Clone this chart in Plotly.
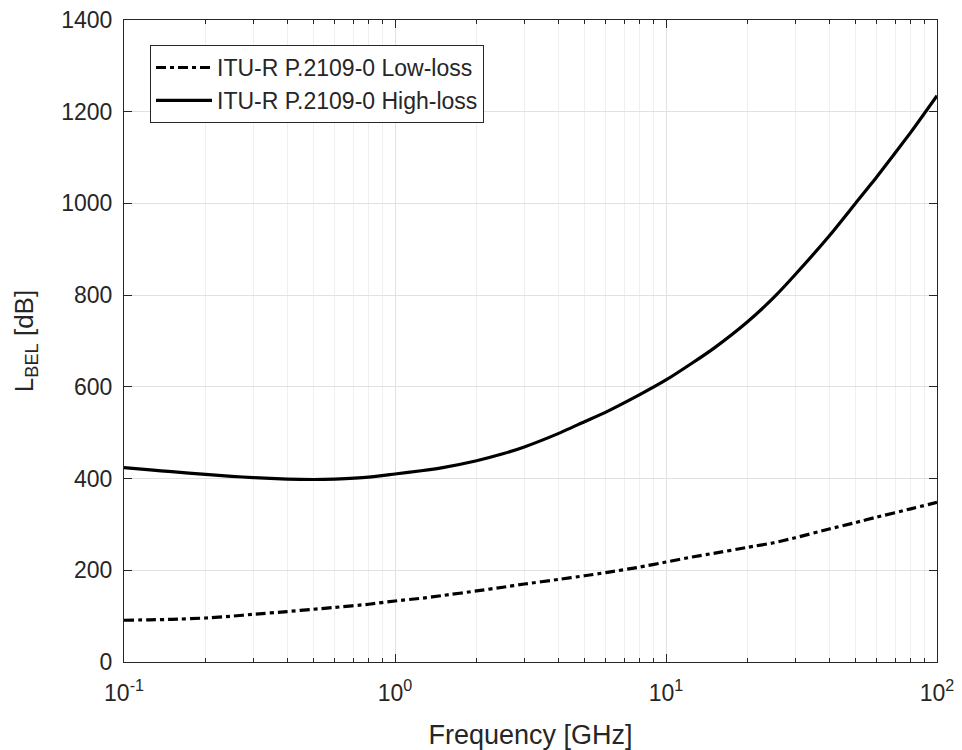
import plotly.graph_objects as go

freq_ghz = [0.1, 0.125, 0.15, 0.2, 0.25, 0.3, 0.4, 0.5, 0.6, 0.8, 1, 1.25, 1.5, 2, 2.5, 3, 4, 5, 6, 8,
            10, 12.5, 15, 20, 25, 30, 40, 50, 60, 80, 100]
low_loss_db = [91, 92, 93, 96, 100, 104, 110, 115, 119, 126, 133, 139, 145, 155, 163, 170, 180, 188, 195, 207,
               218, 229, 237, 250, 260, 271, 290, 304, 316, 334, 348]
high_loss_db = [424, 419, 415, 409, 405, 402, 399, 398, 399, 403, 410, 417, 424, 439, 454, 469, 498, 524, 545, 583,
                615, 652, 684, 742, 795, 845, 929, 1000, 1058, 1155, 1235]

x_tickvals = [0.1, 1, 10, 100]
x_ticktext = ["10<sup>-1</sup>", "10<sup>0</sup>", "10<sup>1</sup>", "10<sup>2</sup>"]
y_tickvals = [0, 200, 400, 600, 800, 1000, 1200, 1400]

font_family = "Liberation Sans, Arial, sans-serif"
txt = "#262626"

fig = go.Figure()
fig.add_trace(go.Scatter(
    x=freq_ghz, y=low_loss_db, mode="lines", name="ITU-R P.2109-0 Low-loss",
    line=dict(color="black", width=3.2, dash="10px,4px,4px,4px", shape="spline", smoothing=0.5),
))
fig.add_trace(go.Scatter(
    x=freq_ghz, y=high_loss_db, mode="lines", name="ITU-R P.2109-0 High-loss",
    line=dict(color="black", width=3.2, shape="spline", smoothing=0.5),
))

# page body has an 8px default margin, so the figure is sized to fit inside 962x750
fig.update_layout(
    width=954, height=742,
    margin=dict(l=116, r=25, t=12, b=88),
    paper_bgcolor="white", plot_bgcolor="white",
    font=dict(family=font_family, size=23, color=txt),
    showlegend=True,
    legend=dict(
        x=0.032, y=0.961, xanchor="left", yanchor="top",
        bgcolor="white", bordercolor="#262626", borderwidth=1,
        font=dict(size=23, color=txt, family=font_family),
        tracegroupgap=0, itemwidth=56,
    ),
)
fig.update_xaxes(
    type="log", range=[-1, 2], automargin=False, ticklabeloverflow="allow",
    tickvals=x_tickvals, ticktext=x_ticktext,
    ticks="inside", ticklen=8, tickcolor="#262626", ticklabelstandoff=10,
    showline=True, linecolor="#262626", linewidth=1, mirror="allticks",
    showgrid=True, gridcolor="#e1e1e1", gridwidth=1,
    minor=dict(ticks="inside", ticklen=4, tickcolor="#262626", showgrid=True,
               gridcolor="#efefef", gridwidth=1, dtick="D1"),
    title=dict(text="Frequency [GHz]", font=dict(size=27, color=txt), standoff=22),
    tickfont=dict(size=23, color=txt),
    zeroline=False,
)
fig.update_yaxes(
    range=[0, 1400], tickvals=y_tickvals, automargin=False, ticklabeloverflow="allow",
    ticks="inside", ticklen=8, tickcolor="#262626", ticklabelstandoff=6,
    showline=True, linecolor="#262626", linewidth=1, mirror="allticks",
    showgrid=True, gridcolor="#e1e1e1", gridwidth=1,
    title=dict(text="L<sub>BEL</sub> [dB]", font=dict(size=26, color=txt), standoff=20),
    tickfont=dict(size=23, color=txt),
    zeroline=False,
)

fig.write_html("out.html")
